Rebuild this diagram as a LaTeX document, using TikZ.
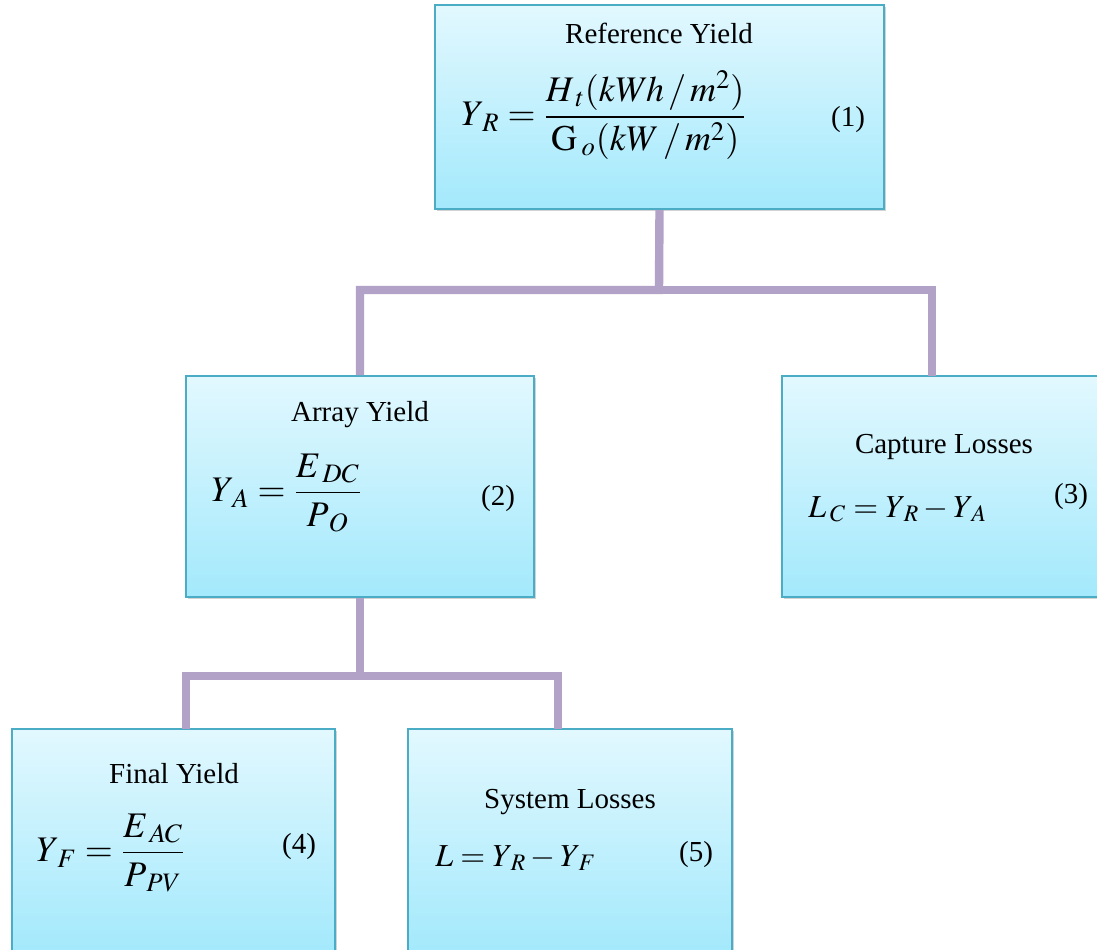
\documentclass[tikz,border=0pt]{standalone}
\usepackage{mathptmx}
\usepackage{fontspec}
\setmainfont{Liberation Serif}
\usetikzlibrary{shadows}

\definecolor{boxtop}{HTML}{E2F8FE}
\definecolor{boxbot}{HTML}{A3E9FC}
\definecolor{boxedge}{HTML}{4BACC6}
\definecolor{linkpurple}{HTML}{B3A2C7}

% subscript set a little apart, as in the original equations
\newcommand{\ssub}[1]{_{\mkern3mu #1}}

\tikzset{
  yieldbox/.style={draw=boxedge, line width=1pt, top color=boxtop, bottom color=boxbot,
    inner sep=0pt, drop shadow={shadow xshift=1pt, shadow yshift=-1.2pt, opacity=0.35}},
  boxtitle/.style={font=\fontsize{14.5}{17}\selectfont, inner sep=0pt, anchor=base},
  fraceq/.style={font=\fontsize{18}{22}\selectfont, inner sep=0pt, anchor=west},
  lineeq/.style={font=\fontsize{16}{20}\selectfont, inner sep=0pt, anchor=base west},
  eqnum/.style={font=\fontsize{14.5}{17}\selectfont, inner sep=0pt},
  link/.style={draw=linkpurple, line width=4.2pt},
}

\begin{document}
\begin{tikzpicture}[x=0.5pt, y=-0.5pt]
    \useasboundingbox (0,0) rectangle (1097,949);
    \clip (0,0) rectangle (1097,949);

    % Boxes
    \node[yieldbox, minimum width=224.5pt, minimum height=102pt] (ref) at (659.5,107) {};
    \node[yieldbox, minimum width=174pt, minimum height=110.5pt] (array) at (360,486.5) {};
    \node[yieldbox, minimum width=170pt, minimum height=110.5pt] (capture) at (952,486.5) {};
    \node[yieldbox, minimum width=161.5pt, minimum height=112pt] (final) at (173.5,841) {};
    \node[yieldbox, minimum width=162pt, minimum height=112pt] (system) at (570,841) {};

    % Reference Yield
    \node[boxtitle] (reftitle) at (659,43) {Reference Yield};
    \node[fraceq] (refeq) at (461,115) {$\displaystyle Y\ssub{R} = \frac{H\ssub{t}(kW\mkern-1mu h\mkern2mu/\mkern2mu m^{2})}{\mathrm{G}\ssub{o}(kW\mkern2mu/\mkern2mu m^{2})}$};
    \node[eqnum] (refnum) at (848,120) {(1)};

    % Array Yield
    \node[boxtitle] (arraytitle) at (360,421) {Array Yield};
    \node[fraceq] (arrayeq) at (211,493) {$\displaystyle Y\ssub{A} = \frac{E\ssub{DC}}{P\ssub{O}}$};
    \node[eqnum] (arraynum) at (498,499) {(2)};

    % Capture Losses
    \node[boxtitle] (capturetitle) at (944,453) {Capture Losses};
    \node[lineeq] (captureeq) at (808,517) {$L\ssub{C} = Y\ssub{R} - Y\ssub{A}$};
    \node[eqnum] (capturenum) at (1071,497) {(3)};

    % Final Yield
    \node[boxtitle] (finaltitle) at (174,783) {Final Yield};
    \node[fraceq] (finaleq) at (36,853) {$\displaystyle Y\ssub{F} = \frac{E\ssub{AC}}{P\ssub{PV}}$};
    \node[eqnum] (finalnum) at (299,847) {(4)};

    % System Losses
    \node[boxtitle] (systemtitle) at (570,808) {System Losses};
    \node[lineeq] (systemeq) at (435,866) {$L = Y\ssub{R} - Y\ssub{F}$};
    \node[eqnum] (systemnum) at (696,855) {(5)};

    % Connections Reference to Array / Capture
    \coordinate (refbus) at (659,290);
    \coordinate (capdrop) at (932,376);
    \draw[link] (ref.south) -- (refbus) -| (array.north);
    \draw[link] (refbus) -| (capdrop);

    % Connections Array to Final / System
    \coordinate (arraybus) at (360,676);
    \coordinate (finaldrop) at (186,729);
    \coordinate (systemdrop) at (558,729);
    \draw[link] (array.south) -- (arraybus) -| (finaldrop);
    \draw[link] (arraybus) -| (systemdrop);
\end{tikzpicture}
\end{document}
